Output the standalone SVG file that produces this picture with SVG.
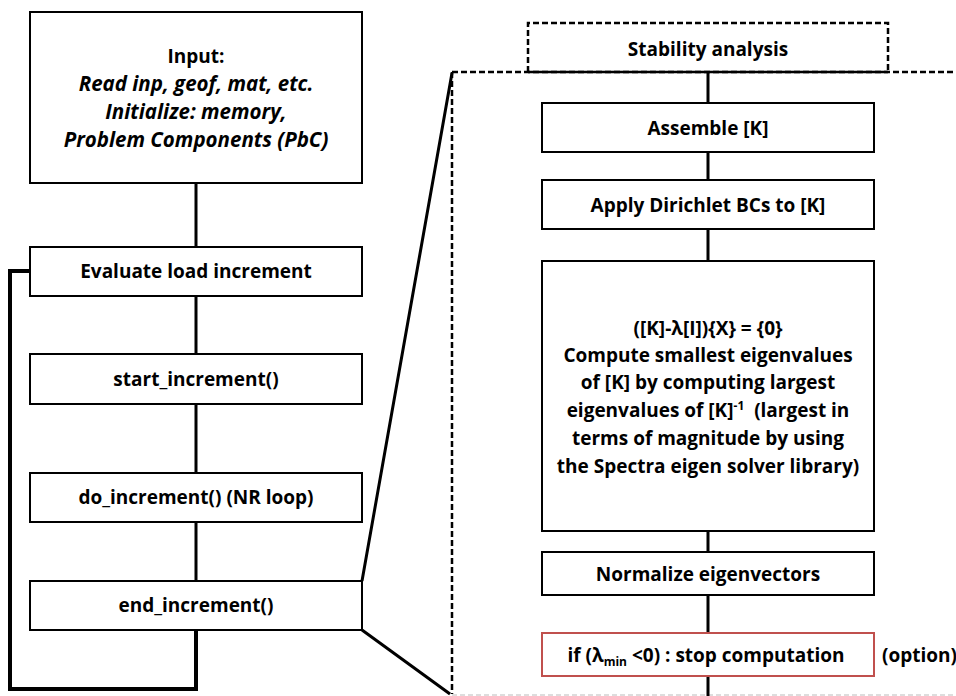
<svg xmlns="http://www.w3.org/2000/svg" width="956" height="696" viewBox="0 0 956 696">
<style>
.box{fill:#fff;stroke:#000;stroke-width:2}
.red{fill:#fff;stroke:#c0504d;stroke-width:2}
.t{font-family:"Open Sans","Liberation Sans",sans-serif;font-weight:700;font-size:19px;fill:#000;text-anchor:middle}
.i{font-style:italic;font-size:20.5px}
.c{stroke:#000;stroke-width:3;fill:none}
.dash{stroke:#000;stroke-width:2.5;fill:none;stroke-dasharray:6 3}
</style>
<rect width="956" height="696" fill="#fff"/>
<g id="zoom-frame">
<path class="dash" d="M452 72 H956"/>
<path class="dash" d="M452 72 V694"/>
<path d="M452 695 H956" stroke="#bbb" stroke-width="1.2" stroke-dasharray="5 3" fill="none"/>
</g>
<g id="connectors">
<path class="c" d="M196 183 V247 M196 296 V354 M196 404 V473 M196 522 V581"/>
<path d="M30 271 H10 V689 H196 V630" stroke="#000" stroke-width="4" fill="none"/>
<path class="c" d="M362 581 L452 73 M362 630 L450 694"/>
<path class="c" d="M708 72 V103 M708 152 V180 M708 229 V261 M708 531 V552 M708 595 V633 M708 676 V696"/>
</g>
<g id="stability">
<path class="dash" d="M528 72 V23 H888 V72"/>
<path d="M528 72 H888" stroke="#000" stroke-width="2.5"/>
<text class="t" x="708" y="56">Stability analysis</text>
</g>
<g id="input">
<rect class="box" x="30" y="12" width="332" height="171"/>
<text class="t" x="196" y="63">Input:</text>
<text class="t i" x="196" y="91">Read inp, geof, mat, etc.</text>
<text class="t i" x="196" y="119">Initialize: memory,</text>
<text class="t i" x="196" y="147">Problem Components (PbC)</text>
</g>
<g id="evaluate">
<rect class="box" x="30" y="247" width="332" height="49"/>
<text class="t" x="196" y="278">Evaluate load increment</text>
</g>
<g id="start">
<rect class="box" x="30" y="354" width="332" height="50"/>
<text class="t" x="196" y="386">start_increment()</text>
</g>
<g id="do">
<rect class="box" x="30" y="473" width="332" height="49"/>
<text class="t" x="196" y="504">do_increment() (NR loop)</text>
</g>
<g id="end">
<rect class="box" x="30" y="581" width="332" height="49"/>
<text class="t" x="196" y="612">end_increment()</text>
</g>
<g id="assemble">
<rect class="box" x="542" y="103" width="332" height="49"/>
<text class="t" x="708" y="135">Assemble [K]</text>
</g>
<g id="dirichlet">
<rect class="box" x="542" y="180" width="332" height="49"/>
<text class="t" x="708" y="212">Apply Dirichlet BCs to [K]</text>
</g>
<g id="eigen">
<rect class="box" x="542" y="261" width="332" height="270"/>
<text class="t" x="708" y="335">([K]-λ[I]){X} = {0}</text>
<text class="t" x="708" y="362">Compute smallest eigenvalues</text>
<text class="t" x="708" y="389">of [K] by computing largest</text>
<text class="t" x="708" y="417">eigenvalues of [K]<tspan font-size="12" dy="-7">-1</tspan><tspan dy="7">&#160; (largest in</tspan></text>
<text class="t" x="708" y="445">terms of magnitude by using</text>
<text class="t" x="708" y="473">the Spectra eigen solver library)</text>
</g>
<g id="normalize">
<rect class="box" x="542" y="552" width="332" height="43"/>
<text class="t" x="708" y="581">Normalize eigenvectors</text>
</g>
<g id="stop">
<rect class="red" x="542" y="633" width="332" height="43"/>
<text class="t" x="706" y="662">if (λ<tspan font-size="12" dy="4">min</tspan><tspan dy="-4"> &lt;0) : stop computation</tspan></text>
<text class="t" x="882" y="662" style="text-anchor:start">(option)</text>
</g>
</svg>
